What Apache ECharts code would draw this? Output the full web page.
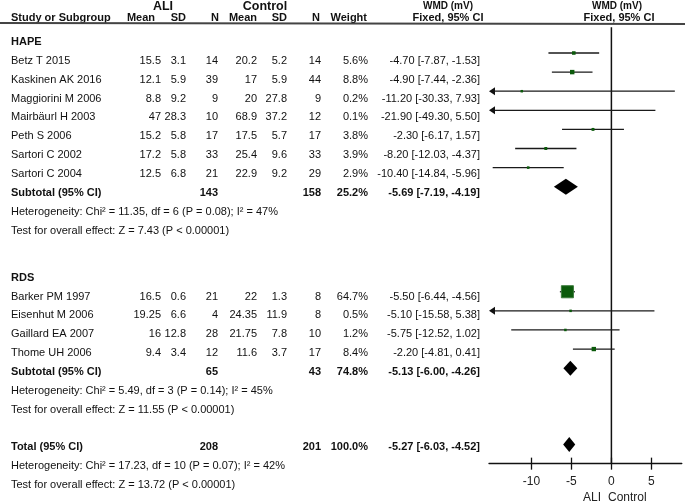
<!DOCTYPE html>
<html><head><meta charset="utf-8">
<script src="https://cdn.jsdelivr.net/npm/echarts@6/dist/echarts.min.js"></script>
<style>html,body{margin:0;padding:0;background:#fff}#c{width:685px;height:504px}</style>
</head><body><div id="c"></div>
<script>
// ---------------- DATA ----------------
const hapeStudies = ['Betz T 2015','Kaskinen AK 2016','Maggiorini M 2006','Mairbäurl H 2003','Peth S 2006','Sartori C 2002','Sartori C 2004'];
const hapeAliMean = [15.5, 12.1, 8.8, 47, 15.2, 17.2, 12.5];
const hapeAliSD   = [3.1, 5.9, 9.2, 28.3, 5.8, 5.8, 6.8];
const hapeAliN    = [14, 39, 9, 10, 17, 33, 21];
const hapeCtlMean = [20.2, 17, 20, 68.9, 17.5, 25.4, 22.9];
const hapeCtlSD   = [5.2, 5.9, 27.8, 37.2, 5.7, 9.6, 9.2];
const hapeCtlN    = [14, 44, 9, 12, 17, 33, 29];
const hapeWeight  = [5.6, 8.8, 0.2, 0.1, 3.8, 3.9, 2.9];
const hapeWMD     = [-4.70, -4.90, -11.20, -21.90, -2.30, -8.20, -10.40];
const hapeLo      = [-7.87, -7.44, -30.33, -49.30, -6.17, -12.03, -14.84];
const hapeHi      = [-1.53, -2.36, 7.93, 5.50, 1.57, -4.37, -5.96];
const hapeSubtotal = {aliN: 143, ctlN: 158, weight: 25.2, wmd: -5.69, lo: -7.19, hi: -4.19};
const hapeHet  = 'Heterogeneity: Chi² = 11.35, df = 6 (P = 0.08); I² = 47%';
const hapeTest = 'Test for overall effect: Z = 7.43 (P < 0.00001)';

const rdsStudies = ['Barker PM 1997','Eisenhut M 2006','Gaillard EA 2007','Thome UH 2006'];
const rdsAliMean = [16.5, 19.25, 16, 9.4];
const rdsAliSD   = [0.6, 6.6, 12.8, 3.4];
const rdsAliN    = [21, 4, 28, 12];
const rdsCtlMean = [22, 24.35, 21.75, 11.6];
const rdsCtlSD   = [1.3, 11.9, 7.8, 3.7];
const rdsCtlN    = [8, 8, 10, 17];
const rdsWeight  = [64.7, 0.5, 1.2, 8.4];
const rdsWMD     = [-5.50, -5.10, -5.75, -2.20];
const rdsLo      = [-6.44, -15.58, -12.52, -4.81];
const rdsHi      = [-4.56, 5.38, 1.02, 0.41];
const rdsSubtotal = {aliN: 65, ctlN: 43, weight: 74.8, wmd: -5.13, lo: -6.00, hi: -4.26};
const rdsHet  = 'Heterogeneity: Chi² = 5.49, df = 3 (P = 0.14); I² = 45%';
const rdsTest = 'Test for overall effect: Z = 11.55 (P < 0.00001)';

const total = {aliN: 208, ctlN: 201, weight: 100.0, wmd: -5.27, lo: -6.03, hi: -4.52};
const totalHet  = 'Heterogeneity: Chi² = 17.23, df = 10 (P = 0.07); I² = 42%';
const totalTest = 'Test for overall effect: Z = 13.72 (P < 0.00001)';

const xTickValues = [-10, -5, 0, 5];
const xAxisMin = -15.3, xAxisMax = 8.8;

// ---------------- LAYOUT ----------------
const FONT = 'Arial, "Liberation Sans", sans-serif';
const FS = 11;
const cols = [
  {x: 11,  align: 'left'},   // study
  {x: 161, align: 'right'},  // ALI mean
  {x: 186, align: 'right'},  // ALI SD
  {x: 218, align: 'right'},  // ALI N
  {x: 257, align: 'right'},  // Ctl mean
  {x: 287, align: 'right'},  // Ctl SD
  {x: 321, align: 'right'},  // Ctl N
  {x: 368, align: 'right'},  // weight
  {x: 480, align: 'right'}   // CI text
];
const f2 = v => v.toFixed(2);
const ciText = (m, l, h) => `${f2(m)} [${f2(l)}, ${f2(h)}]`;
const pct = w => w.toFixed(1) + '%';

const textRows = [];
const studyMarks = [];
const diamonds = [];
function addGroup(title, startRow, st, aM, aS, aN, cM, cS, cN, w, m, lo, hi, sub, het, test) {
  textRows.push({row: startRow, bold: true, cells: [title]});
  st.forEach((s, i) => {
    const r = startRow + 1 + i;
    textRows.push({row: r, bold: false, cells: [s, String(aM[i]), String(aS[i]), String(aN[i]), String(cM[i]), String(cS[i]), String(cN[i]), pct(w[i]), ciText(m[i], lo[i], hi[i])]});
    studyMarks.push([m[i], r, lo[i], hi[i], w[i]]);
  });
  const sr = startRow + 1 + st.length;
  textRows.push({row: sr, bold: true, cells: ['Subtotal (95% CI)', '', '', String(sub.aliN), '', '', String(sub.ctlN), pct(sub.weight), ciText(sub.wmd, sub.lo, sub.hi)]});
  diamonds.push([sub.wmd, sr, sub.lo, sub.hi]);
  textRows.push({row: sr + 1, bold: false, cells: [het]});
  textRows.push({row: sr + 2, bold: false, cells: [test]});
  return sr + 2;
}
let last = addGroup('HAPE', 0, hapeStudies, hapeAliMean, hapeAliSD, hapeAliN, hapeCtlMean, hapeCtlSD, hapeCtlN, hapeWeight, hapeWMD, hapeLo, hapeHi, hapeSubtotal, hapeHet, hapeTest);
last = addGroup('RDS', last + 2.5, rdsStudies, rdsAliMean, rdsAliSD, rdsAliN, rdsCtlMean, rdsCtlSD, rdsCtlN, rdsWeight, rdsWMD, rdsLo, rdsHi, rdsSubtotal, rdsHet, rdsTest);
const totalRow = last + 2;
textRows.push({row: totalRow, bold: true, cells: ['Total (95% CI)', '', '', String(total.aliN), '', '', String(total.ctlN), pct(total.weight), ciText(total.wmd, total.lo, total.hi)]});
diamonds.push([total.wmd, totalRow, total.lo, total.hi]);
textRows.push({row: totalRow + 1, bold: false, cells: [totalHet]});
textRows.push({row: totalRow + 2, bold: false, cells: [totalTest]});

const chart = echarts.init(document.getElementById('c'), null, {renderer: 'canvas'});

const ROW_PX_T = 18.9, ROW_PX_P = 19.1;
const tMin = -2, tMax = 24.5;
const pMin = -0.35, pMax = 22.5;
const hdr = (x, y, text, size, align) => ({type: 'text', x, y, style: {text, font: 'bold ' + size + 'px ' + FONT, fill: '#111', align, verticalAlign: 'middle'}});

const option = {
  animation: false,
  backgroundColor: '#fff',
  grid: [
    {left: 0, width: 685, top: 61 - (1 - tMin) * ROW_PX_T, height: (tMax - tMin) * ROW_PX_T, containLabel: false},
    {left: 489, width: (xAxisMax - xAxisMin) * 8, top: 53 - (1 - pMin) * ROW_PX_P, height: (pMax - pMin) * ROW_PX_P, containLabel: false}
  ],
  xAxis: [
    {gridIndex: 0, type: 'value', min: 0, max: 685, show: false},
    {gridIndex: 1, type: 'value', min: xAxisMin, max: xAxisMax, position: 'bottom',
      axisLine: {show: true, onZero: false, lineStyle: {color: '#111', width: 1.3}},
      axisTick: {show: true, length: 6, lineStyle: {color: '#111', width: 1.3}, customValues: xTickValues},
      axisLabel: {show: true, color: '#222', fontSize: 12, fontFamily: FONT, margin: 12, customValues: xTickValues, formatter: v => String(v)},
      splitLine: {show: false}},
    {gridIndex: 1, type: 'value', min: xAxisMin, max: xAxisMax, position: 'bottom',
      axisLine: {show: false, onZero: false},
      axisTick: {show: true, inside: true, length: 6, lineStyle: {color: '#111', width: 1.3}, customValues: xTickValues},
      axisLabel: {show: false}, splitLine: {show: false}}
  ],
  yAxis: [
    {gridIndex: 0, type: 'value', min: tMin, max: tMax, inverse: true, show: false},
    {gridIndex: 1, type: 'value', min: pMin, max: pMax, inverse: true, show: false}
  ],
  graphic: [
    {type: 'line', shape: {x1: 0, y1: 23, x2: 685, y2: 24}, style: {stroke: '#444', lineWidth: 2}, z: 10},
    hdr(163, 7, 'ALI', 12.5, 'center'),
    hdr(265, 7, 'Control', 12.5, 'center'),
    hdr(11, 18, 'Study or Subgroup', 11, 'left'),
    hdr(155, 18, 'Mean', 11, 'right'),
    hdr(186, 18, 'SD', 11, 'right'),
    hdr(219, 18, 'N', 11, 'right'),
    hdr(257, 18, 'Mean', 11, 'right'),
    hdr(287, 18, 'SD', 11, 'right'),
    hdr(320, 18, 'N', 11, 'right'),
    hdr(367, 18, 'Weight', 11, 'right'),
    hdr(448, 6, 'WMD (mV)', 10, 'center'),
    hdr(448, 18, 'Fixed, 95% CI', 11, 'center'),
    hdr(617, 6, 'WMD (mV)', 10, 'center'),
    hdr(619, 18, 'Fixed, 95% CI', 11, 'center'),
    {type: 'text', x: 601, y: 498, style: {text: 'ALI', font: '12px ' + FONT, fill: '#222', align: 'right', verticalAlign: 'middle'}},
    {type: 'text', x: 608, y: 498, style: {text: 'Control', font: '12px ' + FONT, fill: '#222', align: 'left', verticalAlign: 'middle'}}
  ],
  series: [
    {
      type: 'custom', xAxisIndex: 0, yAxisIndex: 0, silent: true,
      data: textRows.map(r => [0, r.row]),
      encode: {x: 0, y: 1},
      renderItem: (params, api) => {
        const rec = textRows[params.dataIndex];
        const y = api.coord([0, rec.row])[1];
        const font = (rec.bold ? 'bold ' : '') + FS + 'px ' + FONT;
        return {type: 'group', children: rec.cells.map((t, i) => ({
          type: 'text', x: cols[i].x, y: y,
          style: {text: t, font: font, fill: '#111', align: cols[i].align, verticalAlign: 'middle'}
        }))};
      }
    },
    {
      type: 'custom', xAxisIndex: 1, yAxisIndex: 1, silent: true, clip: false,
      data: [[0, pMin, pMax]],
      renderItem: (params, api) => {
        const a = api.coord([api.value(0), api.value(1)]);
        const b = api.coord([api.value(0), api.value(2)]);
        return {type: 'line', shape: {x1: a[0], y1: a[1], x2: b[0], y2: b[1]}, style: {stroke: '#111', lineWidth: 1.5}};
      }
    },
    {
      type: 'custom', xAxisIndex: 1, yAxisIndex: 1, silent: true, clip: false,
      data: studyMarks,
      encode: {x: 0, y: 1},
      renderItem: (params, api) => {
        const m = api.value(0), r = api.value(1), lo = api.value(2), hi = api.value(3), w = api.value(4);
        const c = api.coord([m, r]);
        const pl = api.coord([Math.max(lo, xAxisMin), r]);
        const ph = api.coord([Math.min(hi, xAxisMax), r]);
        const children = [];
        children.push({type: 'line', shape: {x1: pl[0] + (lo < xAxisMin ? 4 : 0), y1: c[1], x2: ph[0], y2: c[1]}, style: {stroke: '#1a1a1a', lineWidth: 1.3}});
        if (lo < xAxisMin) {
          children.push({type: 'polygon', shape: {points: [[pl[0], c[1]], [pl[0] + 6, c[1] - 4], [pl[0] + 6, c[1] + 4]]}, style: {fill: '#111'}});
        }
        if (m >= xAxisMin && m <= xAxisMax) {
          const s = Math.max(2.5, 15 * Math.sqrt(w / 100));
          children.push({type: 'rect', shape: {x: c[0] - s / 2, y: c[1] - s / 2, width: s, height: s},
            style: {fill: '#0b5a0b', stroke: s > 6 ? '#3d7d3d' : null, lineWidth: 1}});
        }
        return {type: 'group', children};
      }
    },
    {
      type: 'custom', xAxisIndex: 1, yAxisIndex: 1, silent: true, clip: false,
      data: diamonds,
      encode: {x: 0, y: 1},
      renderItem: (params, api) => {
        const m = api.value(0), r = api.value(1), lo = api.value(2), hi = api.value(3);
        const c = api.coord([m, r]);
        const pl = api.coord([lo, r]);
        const ph = api.coord([hi, r]);
        const h = params.dataIndex === 0 ? 8 : 7.5;
        return {type: 'polygon', shape: {points: [[pl[0], c[1]], [c[0], c[1] - h], [ph[0], c[1]], [c[0], c[1] + h]]}, style: {fill: '#000'}};
      }
    }
  ]
};
chart.setOption(option);
</script>
</body></html>
